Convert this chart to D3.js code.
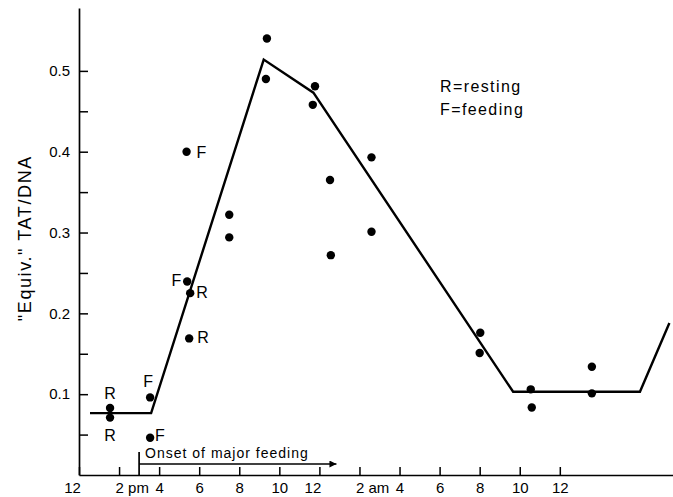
<!DOCTYPE html>
<html lang="en">
<head>
    <meta charset="UTF-8">
    <title>TAT / DNA over the day</title>
    <script src="https://d3js.org/d3.v7.min.js"></script>
</head>
<body>
</body>
<style>
    * {
        margin: 0;
        padding: 0;
    }
    body {
        background: #fff;
    }
    svg text {
        font-family: "Liberation Sans", Arial, sans-serif;
        fill: #000;
    }
</style>
<script>
    // hours after 12 noon, and the measured value
    var hours = [1.55, 1.55, 3.55, 3.55, 5.4, 5.55, 5.5, 5.37, 7.5, 7.5, 9.38, 9.33,
                 11.78, 11.67, 12.53, 12.57, 14.6, 14.6, 20.03, 20.0, 22.55, 22.6, 25.6, 25.6];
    var values = [0.083, 0.071, 0.096, 0.046, 0.2395, 0.225, 0.169, 0.400, 0.322, 0.294, 0.540, 0.490,
                  0.481, 0.458, 0.365, 0.272, 0.393, 0.301, 0.176, 0.151, 0.106, 0.0835, 0.134, 0.101];
    // R = resting, F = feeding (only the first points are marked)
    var tags = ["R", "R", "F", "F", "F", "R", "R", "F"];

    // the fitted line
    var lineHours = [0.55, 3.6, 9.22, 11.7, 21.67, 28, 29.47];
    var lineValues = [0.0765, 0.0765, 0.514, 0.473, 0.103, 0.103, 0.188];

    var xTickHours = [0, 2, 4, 6, 8, 10, 12, 14, 16, 18, 20, 22, 24];
    var xTickLabels = ["12", "2 pm", "4", "6", "8", "10", "12", "2 am", "4", "6", "8", "10", "12"];
    var yTickValues = [0.05, 0.1, 0.15, 0.2, 0.25, 0.3, 0.35, 0.4, 0.45, 0.5];
    var yTickLabels = ["", "0.1", "", "0.2", "", "0.3", "", "0.4", "", "0.5"];
    var onsetHour = 3;
    var legend = ["R=resting", "F=feeding"];

    var width = 673,
        height = 497;

    var x = d3.scaleLinear().domain([0, 29.65]).range([79, 673]);
    var y = d3.scaleLinear().domain([0, 0.5778]).range([475, 8]);

    var svg = d3.select("body")
                .append("svg")
                .attr("width", width)
                .attr("height", height);

    // axes
    var xAxis = svg.append("g")
        .attr("transform", "translate(0," + y(0) + ")")
        .call(d3.axisBottom(x)
            .tickValues(xTickHours)
            .tickSizeInner(-8)
            .tickSizeOuter(0)
            .tickPadding(7)
            .tickFormat(function(d, i) { return xTickLabels[i] }));

    xAxis.selectAll("text")
        .style("font-size", "15px")
        .attr("text-anchor", function(d, i) {
            return xTickLabels[i].length > 2 ? "start" : "middle"
        })
        .attr("dx", function(d, i) {
            if (xTickLabels[i].length > 2) return -4;
            if (d === 0 || d === 12) return -7;
            return 0;
        });

    var yAxis = svg.append("g")
        .attr("transform", "translate(" + x(0) + ",0)")
        .call(d3.axisLeft(y)
            .tickValues(yTickValues)
            .tickSizeInner(-9)
            .tickSizeOuter(0)
            .tickPadding(9)
            .tickFormat(function(d, i) { return yTickLabels[i] }));

    yAxis.selectAll("text").style("font-size", "15px");

    svg.selectAll(".domain").attr("stroke-width", 1.7);
    svg.selectAll(".tick line").attr("stroke-width", 1.5);

    svg.append("text")
        .attr("transform", "translate(31," + y(0.293) + ") rotate(-90)")
        .attr("text-anchor", "middle")
        .style("font-size", "18px")
        .style("letter-spacing", "1.6px")
        .text("\"Equiv.\" TAT/DNA");

    // onset of major feeding
    svg.append("line")
        .attr("x1", x(onsetHour)).attr("x2", x(onsetHour))
        .attr("y1", y(0) - 23).attr("y2", y(0))
        .attr("stroke", "#000").attr("stroke-width", 1.7);

    svg.append("defs").append("marker")
        .attr("id", "arrow")
        .attr("viewBox", "0 0 10 10")
        .attr("refX", 10).attr("refY", 5)
        .attr("markerWidth", 11).attr("markerHeight", 7)
        .attr("markerUnits", "userSpaceOnUse")
        .attr("orient", "auto")
        .append("path")
        .attr("d", "M0,0 L10,5 L0,10 z")
        .attr("fill", "#000");

    svg.append("line")
        .attr("x1", x(onsetHour)).attr("x2", x(12.85))
        .attr("y1", y(0) - 11).attr("y2", y(0) - 11)
        .attr("stroke", "#000").attr("stroke-width", 1.5)
        .attr("marker-end", "url(#arrow)");

    svg.append("text")
        .attr("x", x(onsetHour) + 6)
        .attr("y", y(0) - 17)
        .style("font-size", "14px")
        .style("letter-spacing", "1px")
        .text("Onset of major feeding");

    // fitted line
    var linePts = lineHours.map(function(h, i) { return [h, lineValues[i]] });
    svg.append("path")
        .datum(linePts)
        .attr("d", d3.line()
            .x(function(d) { return x(d[0]) })
            .y(function(d) { return y(d[1]) }))
        .attr("fill", "none")
        .attr("stroke", "#000")
        .attr("stroke-width", 2.4)
        .attr("stroke-linejoin", "miter");

    // data points
    var pts = hours.map(function(h, i) { return {h: h, v: values[i], tag: tags[i] || ""} });

    svg.selectAll("circle")
        .data(pts)
        .enter()
        .append("circle")
        .attr("cx", function(d) { return x(d.h) })
        .attr("cy", function(d) { return y(d.v) })
        .attr("r", 4.2)
        .attr("fill", "#000");

    // where each R/F tag sits around its dot: [dx, dy, anchor]
    var tagPlace = [[0, -9, "middle"], [0, 23, "middle"], [-2, -10, "middle"], [5, 3, "start"],
                    [-6, 5, "end"], [6, 5, "start"], [8, 5, "start"], [10, 6, "start"]];

    svg.selectAll("text.tag")
        .data(pts.filter(function(d) { return d.tag !== "" }))
        .enter()
        .append("text")
        .attr("class", "tag")
        .attr("x", function(d, i) { return x(d.h) + tagPlace[i][0] })
        .attr("y", function(d, i) { return y(d.v) + tagPlace[i][1] })
        .attr("text-anchor", function(d, i) { return tagPlace[i][2] })
        .style("font-size", "16px")
        .text(function(d) { return d.tag });

    // legend
    svg.selectAll("text.legend")
        .data(legend)
        .enter()
        .append("text")
        .attr("class", "legend")
        .attr("x", 440)
        .attr("y", function(d, i) { return 92 + i * 23 })
        .style("font-size", "16px")
        .style("letter-spacing", "1.4px")
        .text(function(d) { return d });
</script>
</html>
